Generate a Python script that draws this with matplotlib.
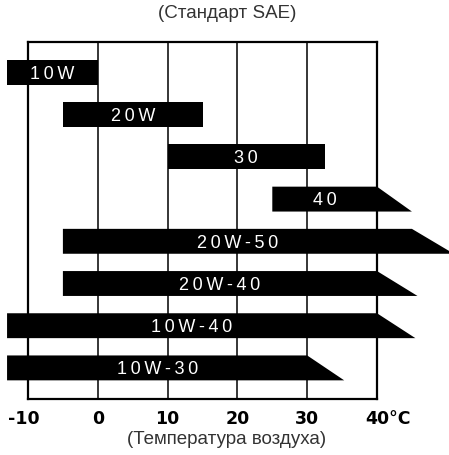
import matplotlib
matplotlib.use("Agg")
import matplotlib.pyplot as plt
from matplotlib.patches import Polygon
from matplotlib.transforms import ScaledTranslation

# ---- data ----
grades = ["10W", "20W", "30", "40", "20W-50", "20W-40", "10W-40", "10W-30"]
start_temp = [-13, -5, 10, 25, -5, -5, -13, -13]
top_end = [0, 15, 32.5, 40, 45, 40, 40, 30]
bottom_end = [0, 15, 32.5, 45, 51, 45.8, 45.5, 35.3]
tick_values = [-10, 0, 10, 20, 30, 40]
tick_labels = ["-10", "0", "10", "20", "30", "40°C"]
grid_values = [0, 10, 20, 30]
title = "(Стандарт SAE)"
xlabel = "(Температура воздуха)"

W, H = 449, 456
fig = plt.figure(figsize=(W / 100, H / 100), dpi=100)
ax = fig.add_axes([28 / W, 1 - 400 / H, 349 / W, 357 / H])
ax.set_xlim(-10, 40)
ax.set_ylim(7.737, -0.723)

for g in grid_values:
    ax.axvline(g, color="black", lw=1.1, zorder=1)

bh = 0.59
for i, (name, s, t, b) in enumerate(zip(grades, start_temp, top_end, bottom_end)):
    poly = Polygon([(s, i - bh / 2), (t, i - bh / 2), (b, i + bh / 2), (s, i + bh / 2)],
                   closed=True, facecolor="black", edgecolor="none",
                   clip_on=False, zorder=3)
    ax.add_patch(poly)
    spaced = "\u2009".join(name)
    ax.text((s + t) / 2, i + 0.02, spaced, color="white", ha="center", va="center",
            fontsize=13, family=["Liberation Sans", "DejaVu Sans"], zorder=4, clip_on=False)

for sp in ax.spines.values():
    sp.set_linewidth(1.6)
    sp.set_color("black")
    sp.set_zorder(2)

ax.set_yticks([])
ax.set_xticks(tick_values, tick_labels)
ax.tick_params(axis="x", length=0, pad=7)
for lab in ax.get_xticklabels():
    lab.set_fontsize(12.5)
    lab.set_fontweight("bold")
    lab.set_family("DejaVu Sans")
labs = ax.get_xticklabels()
labs[0].set_transform(labs[0].get_transform() + ScaledTranslation(-4 / 100, 0, fig.dpi_scale_trans))
labs[-1].set_horizontalalignment("left")
labs[-1].set_transform(labs[-1].get_transform() + ScaledTranslation(-12 / 100, 0, fig.dpi_scale_trans))

fig.text(227 / W, 1 - 14 / H, title, ha="center", va="center", fontsize=13.5,
         color="#333333", family="Liberation Sans")
fig.text(226.5 / W, 1 - 440 / H, xlabel, ha="center", va="center", fontsize=13.5,
         color="#333333", family="Liberation Sans")

fig.savefig("out.png", dpi=100)
